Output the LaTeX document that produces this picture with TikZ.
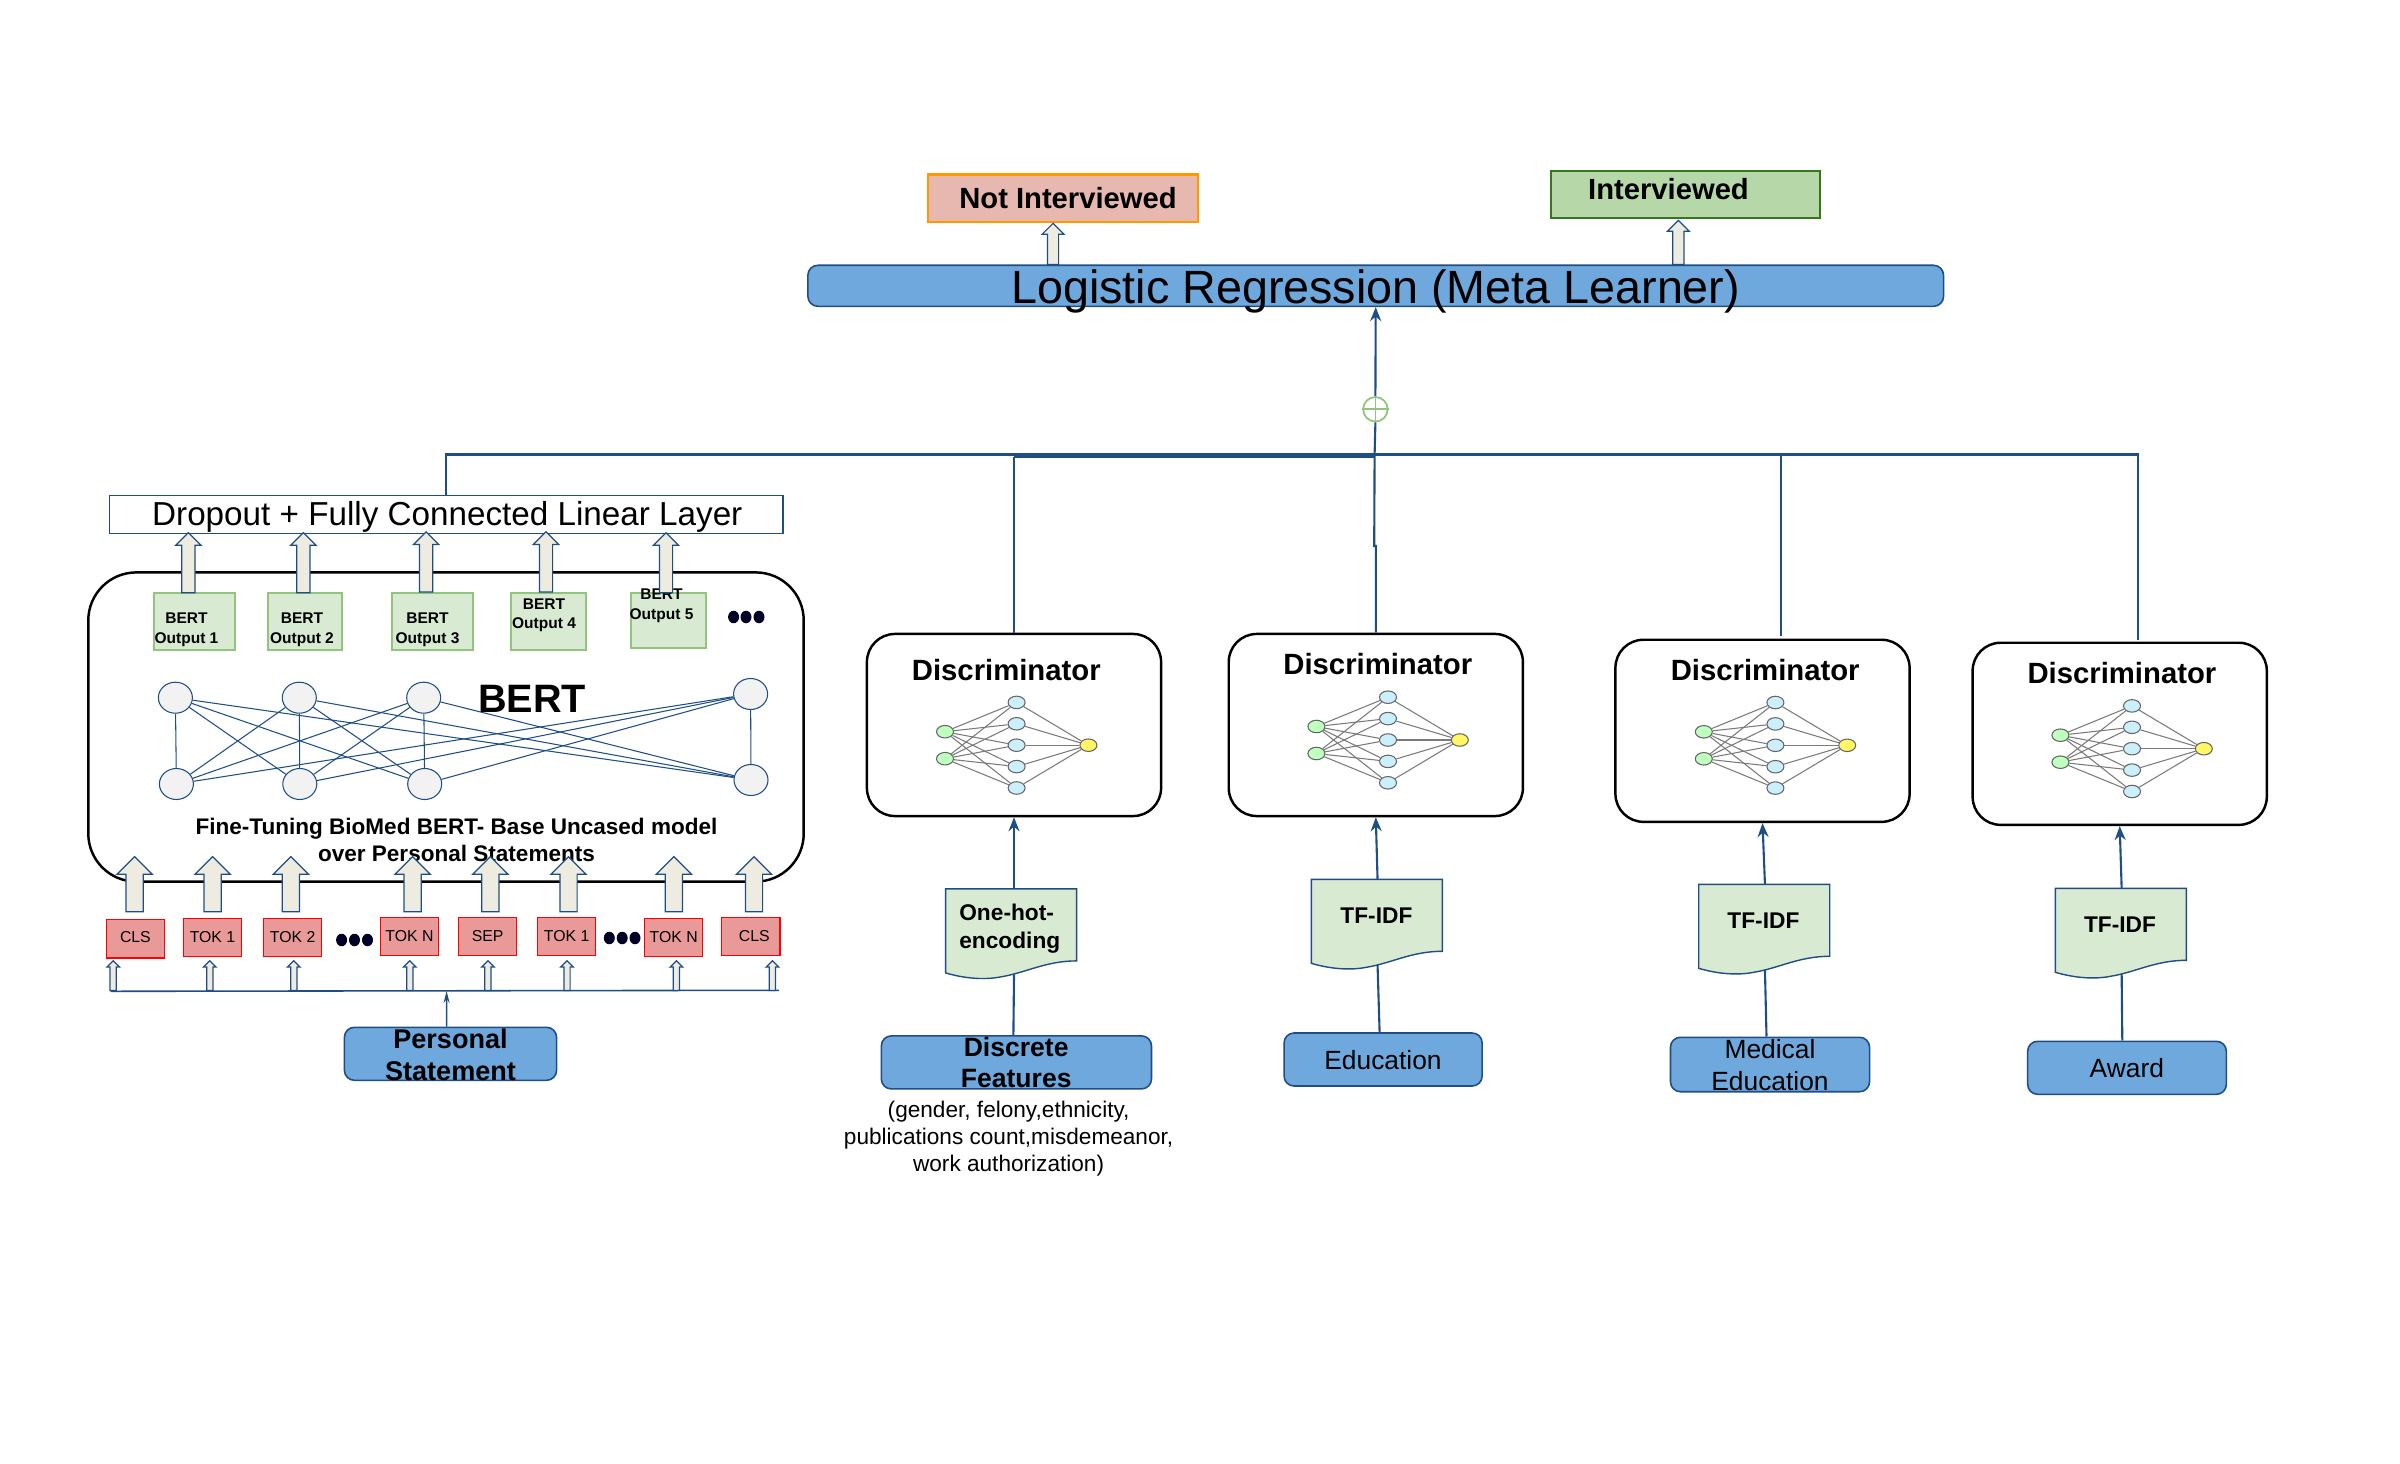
\documentclass[tikz,border=0pt]{standalone}
\usepackage{fontspec}
\setmainfont{Liberation Sans}
\usetikzlibrary{arrows.meta,shapes.arrows,shapes.geometric}

\definecolor{linecol}{HTML}{1F4E85}
\definecolor{bluefill}{HTML}{6FA8DC}
\definecolor{paleolive}{HTML}{EEECE1}
\definecolor{palegreen}{HTML}{D9EAD3}
\definecolor{midgreen}{HTML}{93C47D}
\definecolor{tokenred}{HTML}{EA9999}
\definecolor{netgray}{HTML}{7A7A7A}
\definecolor{notfill}{HTML}{E6B8AF}
\definecolor{notline}{HTML}{FF9900}
\definecolor{yesfill}{HTML}{B6D7A8}
\definecolor{yesline}{HTML}{38761D}

\tikzset{
  upbase/.style={single arrow, draw=linecol, fill=paleolive, line width=.35pt, rotate=90, anchor=tail, inner xsep=0pt},
  upbig/.style={upbase, inner ysep=.08cm, single arrow head extend=.09cm, minimum height=.55cm},
  upmid/.style={upbase, inner ysep=.06cm, single arrow head extend=.06cm, minimum height=.6cm},
  uptop/.style={upbase, inner ysep=.05cm, single arrow head extend=.052cm},
  upsmall/.style={upbase, inner ysep=.025cm, single arrow head extend=.032cm, minimum height=.296cm},
  bluebox/.style={draw=linecol, fill=bluefill, line width=.45pt, rounded corners=.1cm, inner sep=0pt},
  discbox/.style={draw=black, line width=.7pt, rounded corners=.28cm, minimum width=2.94cm, minimum height=1.82cm, inner sep=0pt},
  outbox/.style={draw=midgreen, fill=palegreen, line width=.5pt, inner sep=0pt},
  tokenbox/.style={draw=red, fill=tokenred, line width=.35pt, minimum width=.582cm, minimum height=.385cm, inner sep=0pt, font=\fontsize{4.5}{5.5}\selectfont},
  bertcell/.style={ellipse, draw=linecol, fill=black!5, line width=.3pt, minimum width=.34cm, minimum height=.31cm, inner sep=0pt},
  dotmark/.style={ellipse, fill=black!85!blue, minimum width=.11cm, minimum height=.125cm, inner sep=0pt},
  outtext/.style={inner sep=0pt, align=center, font=\bfseries\fontsize{4.41}{5.55}\selectfont},
  disctitle/.style={inner sep=0pt, font=\bfseries\fontsize{8.33}{10}\selectfont},
  doctext/.style={inner sep=0pt, align=left, font=\bfseries\fontsize{6.46}{7.8}\selectfont},
  srctext/.style={inner sep=0pt, align=center, font=\fontsize{7.5}{9.15}\selectfont},
  docline/.style={draw=linecol, fill=palegreen, line width=.4pt},
  link/.style={draw=linecol, line width=.6pt},
  linkhead/.style={link, -{Stealth[length=.14cm,width=.11cm]}},
  netin/.style={ellipse, draw=black!60, fill=green!25, line width=.3pt, minimum width=.17cm, minimum height=.125cm, inner sep=0pt},
  nethid/.style={netin, fill=cyan!20},
  netout/.style={netin, fill=yellow!60},
}

\newcommand{\docpage}[3]{%
  \draw [docline, shift={(#2,#3)}] (0,0) -- (131,0) -- (131,72) .. controls (100,72) and (80,84) .. (55,88) .. controls (40,91) and (20,90) .. (0,84) -- cycle;
  \node [inner sep=0pt, minimum width=1.31cm, minimum height=.84cm, anchor=north west] (#1) at (#2,#3) {};
}
\newcommand{\discnet}[3]{%
  \node [netin] (#1i1) at (#2-71.6,#3-13.5) {};
  \node [netin] (#1i2) at (#2-71.6,#3+13.5) {};
  \foreach \j/\dy in {1/-42.8,2/-21.4,3/0,4/21.4,5/42.8}
    \node [nethid] (#1h\j) at (#2,#3+\dy) {};
  \node [netout] (#1o) at (#2+71.8,#3) {};
  \foreach \j in {1,...,5} {
    \draw [netgray, line width=.3pt] (#1i1) -- (#1h\j);
    \draw [netgray, line width=.3pt] (#1i2) -- (#1h\j);
    \draw [netgray, line width=.3pt] (#1h\j) -- (#1o);
  }
}

\begin{document}
\begin{tikzpicture}[x=.01cm,y=-.01cm]
  \useasboundingbox (0,0) rectangle (2400,1464);

  % left column: bert block
  \node [draw=black, line width=.7pt, rounded corners=.48cm, minimum width=7.15cm, minimum height=3.09cm, inner sep=0pt] (bert) at (446,727) {};
  \node [draw=linecol, fill=white, line width=.4pt, minimum width=6.73cm, minimum height=.38cm, inner sep=0pt] (dropout) at (446.4,514.5) {};
  \node [inner sep=0pt, font=\fontsize{9.45}{11}\selectfont] (dropouttext) at (447.3,517) {Dropout + Fully Connected Linear Layer};

  \node [outbox, minimum width=.81cm, minimum height=.57cm] (out1) at (194.5,621.5) {};
  \node [outbox, minimum width=.74cm, minimum height=.57cm] (out2) at (305,621.5) {};
  \node [outbox, minimum width=.81cm, minimum height=.57cm] (out3) at (432.4,621.5) {};
  \node [outbox, minimum width=.75cm, minimum height=.57cm] (out4) at (548.5,621.5) {};
  \node [outbox, minimum width=.75cm, minimum height=.55cm] (out5) at (668.7,620.5) {};
  \node [outtext] (outtext1) at (186.5,630) {BERT\\Output 1};
  \node [outtext] (outtext2) at (302,630) {BERT\\Output 2};
  \node [outtext] (outtext3) at (427.5,630) {BERT\\Output 3};
  \node [outtext] (outtext4) at (544,615.2) {BERT\\Output 4};
  \node [outtext] (outtext5) at (661.5,606) {BERT\\Output 5};
  \node [dotmark] (top1) at (733.6,617) {};
  \node [dotmark] (top2) at (746,617) {};
  \node [dotmark] (top3) at (759,617) {};

  \node [upmid] (up1) at (188.4,593.3) {};
  \node [upmid] (up2) at (303.3,593.3) {};
  \node [upmid] (up3) at (426.2,592.5) {};
  \node [upmid] (up4) at (546,592.5) {};
  \node [upmid] (up5) at (666,593.3) {};

  \node [bertcell] (t1) at (175.4,697.7) {};
  \node [bertcell] (t2) at (299.3,697.7) {};
  \node [bertcell] (t3) at (423.7,697.7) {};
  \node [bertcell] (t4) at (750.6,694) {};
  \node [bertcell] (b1) at (176.4,784) {};
  \node [bertcell] (b2) at (299.8,784) {};
  \node [bertcell] (b3) at (424.7,784) {};
  \node [bertcell] (b4) at (751,780) {};
  \path [draw=linecol, line width=.3pt] (t1) edge (b1) (t1) edge (b2) (t1) edge (b3) (t1) edge (b4)
    (t2) edge (b1) (t2) edge (b2) (t2) edge (b3) (t2) edge (b4)
    (t3) edge (b1) (t3) edge (b2) (t3) edge (b3) (t3) edge (b4)
    (t4) edge (b1) (t4) edge (b2) (t4) edge (b3) (t4) edge (b4);
  \node [inner sep=0pt, font=\bfseries\fontsize{11.27}{13}\selectfont] (berttext) at (532,699) {BERT};
  \node [inner sep=0pt, align=center, font=\bfseries\fontsize{6.41}{7.68}\selectfont] (finetext) at (456.5,839.5) {Fine-Tuning BioMed BERT- Base Uncased model\\over Personal Statements};

  \node [upbig] (in1) at (134.6,912.3) {};
  \node [upbig] (in2) at (212.7,912.3) {};
  \node [upbig] (in3) at (290.8,912.3) {};
  \node [upbig] (in4) at (412.7,912.3) {};
  \node [upbig] (in5) at (490.3,912.3) {};
  \node [upbig] (in6) at (568.5,912.3) {};
  \node [upbig] (in7) at (673.9,912.3) {};
  \node [upbig] (in8) at (754,912.3) {};

  % tokens
  \node [tokenbox] (cls1) at (135.4,938.8) {\raisebox{.35ex}{CLS}};
  \node [tokenbox] (tok1) at (212.5,937.5) {TOK 1\hspace{.05cm}};
  \node [tokenbox] (tok2) at (292.6,937.5) {TOK 2};
  \node [tokenbox] (tokn1) at (409.5,936.5) {TOK N};
  \node [tokenbox] (sep) at (487.6,936.5) {SEP};
  \node [tokenbox] (tok3) at (566.7,936.5) {\raisebox{-.5ex}{TOK 1}\hspace{.03cm}};
  \node [tokenbox] (tokn2) at (673.7,937.5) {TOK N};
  \node [tokenbox] (cls2) at (750.8,936.5) {\hspace{.07cm}CLS};
  \node [dotmark] (mid1) at (341.6,940) {};
  \node [dotmark] (mid2) at (354.5,940) {};
  \node [dotmark] (mid3) at (367.5,940) {};
  \node [dotmark] (mid4) at (609.3,938) {};
  \node [dotmark] (mid5) at (622.2,938) {};
  \node [dotmark] (mid6) at (635,938) {};

  \coordinate (tokl) at (110.7,991.3);
  \coordinate (tokr) at (778.9,990.3);
  \coordinate (tokc) at (446.6,991);
  \draw [draw=linecol, line width=.45pt] (tokl) -- (tokr);
  \node [upsmall] (sm1) at (113.2,991) {};
  \node [upsmall] (sm2) at (209.8,991) {};
  \node [upsmall] (sm3) at (293.8,991) {};
  \node [upsmall] (sm4) at (409.8,991) {};
  \node [upsmall] (sm5) at (487.9,991) {};
  \node [upsmall] (sm6) at (567,991) {};
  \node [upsmall] (sm7) at (676.4,991) {};
  \node [upsmall] (sm8) at (772.4,991) {};

  \node [bluebox, minimum width=2.12cm, minimum height=.53cm] (personal) at (450.5,1053.8) {};
  \node [inner sep=0pt, align=center, font=\bfseries\fontsize{7.7}{9}\selectfont] (personaltext) at (450.5,1055) {Personal\\Statement};
  \draw [draw=linecol, line width=.4pt, -{Stealth[length=.12cm,width=.06cm]}] ([xshift=-.039cm]personal.north) -- (tokc);

  % top of the picture
  \node [bluebox, minimum width=11.35cm, minimum height=.41cm] (lr) at (1375.7,285.8) {};
  \node [inner sep=0pt, font=\fontsize{13.27}{15}\selectfont] (lrtext) at (1375.7,291) {Logistic Regression (Meta Learner)};
  \node [draw=notline, fill=notfill, line width=.7pt, minimum width=2.7cm, minimum height=.473cm, inner sep=0pt, font=\bfseries\fontsize{8.3}{10}\selectfont] (notint) at (1063,198.3) {\hspace{.1cm}Not Interviewed};
  \node [draw=yesline, fill=yesfill, line width=.7pt, minimum width=2.69cm, minimum height=.47cm, inner sep=0pt] (intbox) at (1685.3,194.5) {};
  \node [inner sep=0pt, font=\bfseries\fontsize{8.3}{10}\selectfont] (inttext) at (1668.5,189.3) {Interviewed};
  \node [uptop, minimum height=.41cm] (upno) at (1053,265) {};
  \node [uptop, minimum height=.44cm] (upyes) at (1678.3,265) {};

  \node [circle, draw=midgreen, fill=white, line width=.5pt, minimum size=.245cm, inner sep=0pt] (sum) at (1375.4,409.3) {};
  \draw [midgreen, line width=.5pt] (sum.north) -- (sum.south) (sum.west) -- (sum.east);
  \draw [linkhead] (sum.north) -- (lr.south);

  % discriminators
  \node [discbox] (disc1) at (1014,725) {};
  \node [discbox] (disc2) at (1375.8,725) {};
  \node [discbox] (disc3) at (1762.5,730.8) {};
  \node [discbox] (disc4) at (2119.7,733.8) {};
  \node [disctitle] (title1) at (1006.3,670) {Discriminator};
  \node [disctitle] (title2) at (1377.8,664.4) {Discriminator};
  \node [disctitle] (title3) at (1765.2,670) {Discriminator};
  \node [disctitle] (title4) at (2121.9,673.3) {Discriminator};
  \discnet{na}{1016.6}{745.2}
  \discnet{nb}{1388}{740}
  \discnet{nc}{1775.4}{745.3}
  \discnet{nd}{2132}{748.7}

  \coordinate (busc) at (1374.6,454.5);
  \coordinate (bus1) at (disc1.north |- busc);
  \coordinate (busr) at (2138.4,454.5);
  \coordinate (jog) at (1375.8,546);
  \coordinate (end3) at (1781.3,636);
  \coordinate (end4) at (2138.4,640);
  \draw [link] (dropout.north) |- (busr) -- (end4);
  \draw [link] ([yshift=-.02cm]bus1) -- (disc1.north);
  \draw [link] ([yshift=-.02cm]bus1) -- ([yshift=-.02cm]busc);
  \draw [link] (end3 |- busc) -- (end3);
  \draw [link] (busc) -- (sum.south);
  \draw [link] (busc) -- (1374.2,546) -- (jog) -- (disc2.north);

  % feature encodings
  \docpage{doc1}{945.6}{888.9}
  \docpage{doc2}{1311.3}{879.3}
  \docpage{doc3}{1698.7}{884.3}
  \docpage{doc4}{2055.4}{888.3}
  \node [doctext, anchor=north west] (doctext1) at (958.6,903.5) {One-hot-\\encoding};
  \node [doctext] (doctext2) at (1376.4,915.6) {TF-IDF};
  \node [doctext] (doctext3) at (1763.4,920.7) {TF-IDF};
  \node [doctext] (doctext4) at (2120,924.5) {TF-IDF};
  \draw [linkhead] (doc1.north -| disc1.south) -- (disc1.south);
  \draw [linkhead] (doc2.north) -- (disc2.south);
  \draw [linkhead] (doc3.north) -- (disc3.south);
  \draw [linkhead] (doc4.north) -- (disc4.south);

  % inputs at the bottom
  \node [bluebox, minimum width=2.7cm, minimum height=.53cm] (discrete) at (1016.4,1062.4) {};
  \node [bluebox, minimum width=1.98cm, minimum height=.53cm] (education) at (1383.1,1059.5) {};
  \node [bluebox, minimum width=1.99cm, minimum height=.544cm] (medical) at (1770,1064.5) {};
  \node [bluebox, minimum width=1.986cm, minimum height=.53cm] (award) at (2127,1067.8) {};
  \node [inner sep=0pt, align=center, font=\bfseries\fontsize{7.55}{8.96}\selectfont] (discretetext) at (1016.2,1062.5) {Discrete\\Features};
  \node [srctext] (educationtext) at (1383,1060) {Education};
  \node [srctext] (medicaltext) at (1770,1065) {Medical\\Education};
  \node [srctext] (awardtext) at (2126.8,1068.3) {Award};
  \node [inner sep=0pt, align=center, font=\fontsize{6.43}{7.76}\selectfont] (notetext) at (1008.6,1138.5) {(gender, felony,ethnicity,\\publications count,misdemeanor,\\work authorization)};
  \draw [link] ([xshift=-.03cm]discrete.north) -- (doc1.south -| disc1.south);
  \draw [link] ([xshift=-.035cm]education.north) -- (doc2.south);
  \draw [link] ([xshift=-.035cm]medical.north) -- (doc3.south);
  \draw [link] ([xshift=-.047cm]award.north) -- (doc4.south);
\end{tikzpicture}
\end{document}
